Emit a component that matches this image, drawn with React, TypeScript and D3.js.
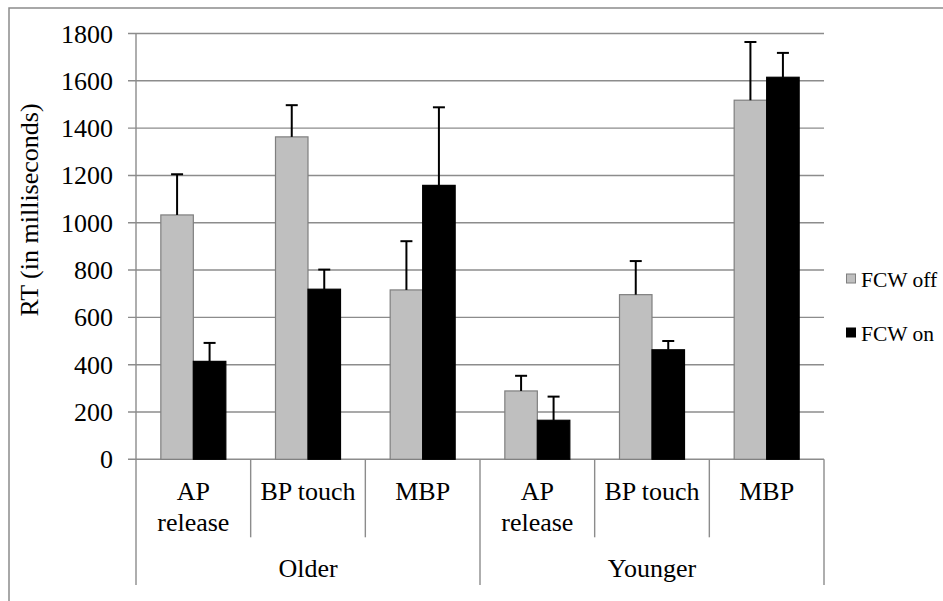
import * as d3 from 'd3'

// categories (two-level axis)
const groups = ['Older', 'Younger']
const measures = [['AP', 'release'], ['BP touch'], ['MBP']]
const categoryKeys = ['Older-AP', 'Older-BP', 'Older-MBP', 'Younger-AP', 'Younger-BP', 'Younger-MBP']

// series
const seriesNames = ['FCW off', 'FCW on']
const fcwOff = [1033, 1363, 716, 289, 696, 1518]
const fcwOffErr = [172, 134, 206, 64, 142, 246]
const fcwOn = [414, 719, 1158, 165, 463, 1615]
const fcwOnErr = [78, 83, 330, 100, 37, 103]

const yTicks = [0, 200, 400, 600, 800, 1000, 1200, 1400, 1600, 1800]

const FONT = 'Times New Roman, Liberation Serif, Tinos, serif'
const GRID = '#8c8c8c'

const plot = { left: 136, right: 824, top: 33.5, bottom: 459.3 }
const innerBottom = 537.3
const outerBottom = 585

export default function App() {
    const y = d3.scaleLinear().domain([0, 1800]).range([plot.bottom, plot.top])
    const x0 = d3.scaleBand().domain(categoryKeys).range([plot.left, plot.right]).paddingInner(0).paddingOuter(0)
    const x1 = d3.scaleBand().domain(seriesNames).range([0, x0.bandwidth()]).paddingInner(0).paddingOuter(0.764)

    const series = [
        { name: 'FCW off', values: fcwOff, errs: fcwOffErr, fill: '#bfbfbf', stroke: '#7f7f7f' },
        { name: 'FCW on', values: fcwOn, errs: fcwOnErr, fill: '#000000', stroke: '#000000' },
    ]

    const textStyle = { fontFamily: FONT, fontSize: 26 }

    return (
        <svg width={943} height={601} fontFamily={FONT}
            style={{ position: 'absolute', left: 0, top: 0, background: 'white', display: 'block', fontFamily: FONT }}>
            {/* outer frame, right and bottom edges cut off */}
            <path d="M9,601 L9,8 L943,8" fill="none" stroke={GRID} strokeWidth={1.5} />

            {/* gridlines and y tick labels */}
            {yTicks.map(t => (
                <line key={'g' + t} x1={plot.left - 8} x2={plot.right} y1={y(t)} y2={y(t)} stroke={GRID} strokeWidth={1.4} />
            ))}
            {yTicks.map(t => (
                <text key={'t' + t} x={113} y={y(t) + 9} textAnchor="end" style={textStyle}>{t}</text>
            ))}
            <line x1={plot.left} x2={plot.left} y1={plot.top} y2={plot.bottom} stroke={GRID} strokeWidth={1.4} />

            <text transform="translate(38,210) rotate(-90)" textAnchor="middle" style={textStyle}>RT (in milliseconds)</text>

            {/* bars + error bars */}
            {series.map(s => categoryKeys.map((k, i) => {
                const bx = x0(k)! + x1(s.name)!
                const bw = x1.bandwidth()
                const cx = bx + bw / 2
                const top = y(s.values[i] + s.errs[i])
                return (
                    <g key={s.name + k}>
                        <rect x={bx} y={y(s.values[i])} width={bw} height={y(0) - y(s.values[i])}
                            fill={s.fill} stroke={s.stroke} strokeWidth={1.2} />
                        <line x1={cx} x2={cx} y1={y(s.values[i])} y2={top} stroke="black" strokeWidth={2} />
                        <line x1={cx - 6} x2={cx + 6} y1={top} y2={top} stroke="black" strokeWidth={2} />
                    </g>
                )
            }))}

            {/* category separators */}
            {categoryKeys.map((k, i) => (
                <line key={k} x1={x0(k)} x2={x0(k)} y1={plot.bottom}
                    y2={i % measures.length === 0 ? outerBottom : innerBottom}
                    stroke={GRID} strokeWidth={1.4} />
            ))}
            <line x1={plot.right} x2={plot.right} y1={plot.bottom} y2={outerBottom} stroke={GRID} strokeWidth={1.4} />

            {/* category labels */}
            {categoryKeys.map((k, i) => measures[i % measures.length].map((ln, j) => (
                <text key={k + j} x={x0(k)! + x0.bandwidth() / 2} y={490.7 + j * 31 + 9}
                    textAnchor="middle" style={textStyle}>{ln}</text>
            )))}

            {/* group labels */}
            {groups.map((g, gi) => (
                <text key={g} x={x0(categoryKeys[gi * measures.length])! + x0.bandwidth() * measures.length / 2} y={568 + 9}
                    textAnchor="middle" style={textStyle}>{g}</text>
            ))}

            {/* legend */}
            {series.map((s, i) => {
                const ly = 279 + i * 54
                return (
                    <g key={s.name}>
                        <rect x={846.5} y={ly - 5} width={9} height={9} fill={s.fill} stroke={s.stroke} strokeWidth={1} />
                        <text x={861} y={ly + 7.5} style={{ fontFamily: FONT, fontSize: 21.5 }}>{s.name}</text>
                    </g>
                )
            })}
        </svg>
    )
}
